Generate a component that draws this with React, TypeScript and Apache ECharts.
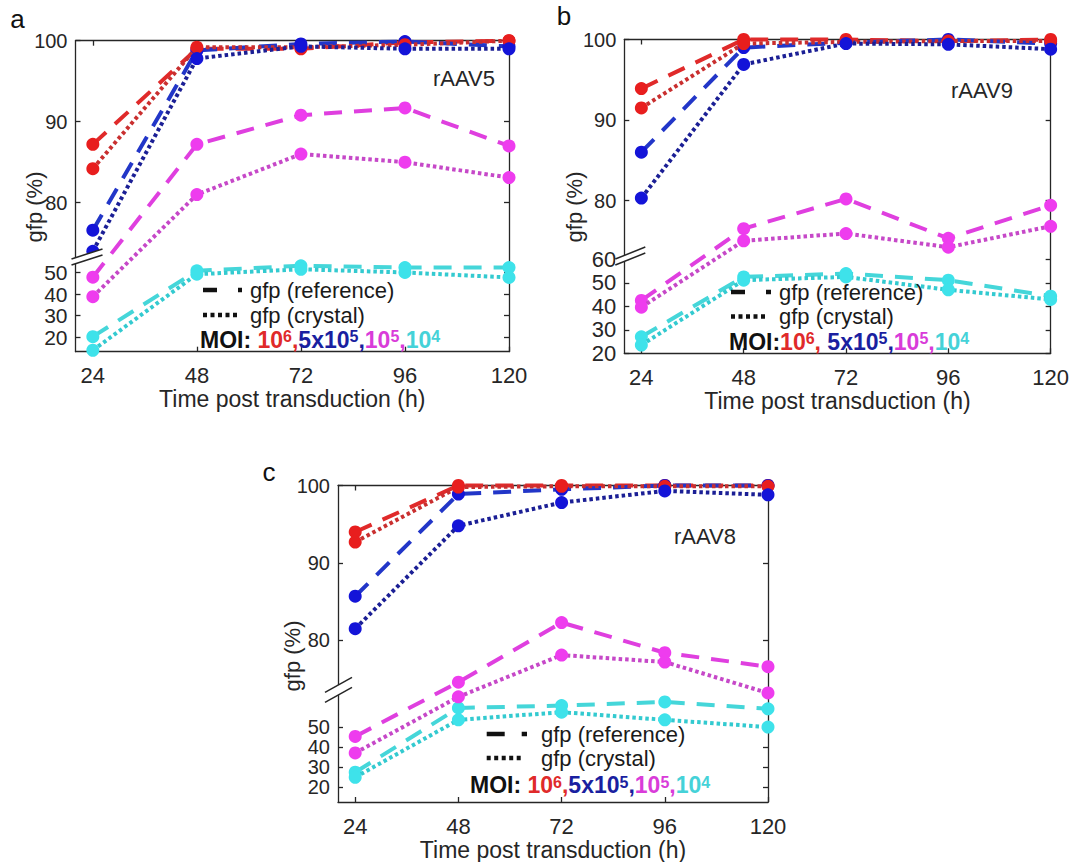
import React, { useEffect, useRef } from "react";
import * as echarts from "echarts";

// ---------- data ----------
const hours = [24, 48, 72, 96, 120];
const xTicks = [24, 48, 72, 96, 120];
const upperTicks = [80, 90, 100];
const lowerTicksA = [20, 30, 40, 50];
const lowerTicksB = [20, 30, 40, 50, 60];
const lowerTicksC = [20, 30, 40, 50];
const panelLetters = ["a", "b", "c"];
const vectorNames = ["rAAV5", "rAAV9", "rAAV8"];
const legendLabels = ["gfp (reference)", "gfp (crystal)"];
const moiNames = ["10^6", "5x10^5", "10^5", "10^4"];
const yTitle = "gfp (%)";
const xTitle = "Time post transduction (h)";

// panel a (rAAV5)
const aRedRef = [87.2, 99.0, 99.0, 99.8, 100.0];
const aRedCry = [84.2, 99.2, 99.2, 99.5, 100.0];
const aBlueRef = [76.6, 98.8, 99.6, 99.9, 99.3];
const aBlueCry = [74.0, 97.8, 99.3, 99.0, 99.0];
const aMagRef = [47.8, 87.2, 90.8, 91.7, 87.0];
const aMagCry = [38.8, 81.0, 86.0, 85.0, 83.1];
const aCyanRef = [20.3, 50.8, 53.1, 52.3, 52.3];
const aCyanCry = [14.0, 49.2, 51.5, 50.0, 47.7];

// panel b (rAAV9)
const bRedRef = [93.9, 100.0, 100.0, 99.8, 100.0];
const bRedCry = [91.5, 99.5, 99.7, 99.8, 99.8];
const bBlueRef = [86.0, 99.0, 99.6, 100.0, 99.5];
const bBlueCry = [80.3, 96.9, 99.5, 99.4, 98.8];
const bMagRef = [42.5, 76.5, 80.2, 75.3, 79.4];
const bMagCry = [39.6, 75.0, 75.9, 74.2, 76.8];
const bCyanRef = [27.0, 52.5, 53.9, 51.1, 44.3];
const bCyanCry = [23.5, 51.1, 52.5, 47.0, 42.9];

// panel c (rAAV8)
const cRedRef = [94.0, 100.0, 100.0, 100.0, 100.0];
const cRedCry = [92.7, 99.8, 99.9, 99.9, 99.9];
const cBlueRef = [85.7, 98.9, 99.5, 100.0, 100.0];
const cBlueCry = [81.5, 94.8, 97.8, 99.3, 98.8];
const cMagRef = [45.3, 74.6, 82.3, 78.4, 76.6];
const cMagCry = [37.1, 72.7, 78.1, 77.2, 73.2];
const cCyanRef = [27.5, 59.5, 60.7, 62.5, 59.1];
const cCyanCry = [25.0, 53.6, 57.4, 53.6, 50.0];

// ---------- styling / layout ----------
const FONT = "'Liberation Sans', Arial, Helvetica, sans-serif";
const AXIS = "#262626";
const BREAK_THRESHOLD = 65; // values below are drawn on the compressed lower scale

const colorSpec = [
  { dash: "#e02a2a", dot: "#c92f2f", mk: "#e81e1e", txt: "#e02a2a" },
  { dash: "#2236c8", dot: "#1b1f95", mk: "#1414d8", txt: "#1a1fa0" },
  { dash: "#df3fdf", dot: "#c648c8", mk: "#ee3cee", txt: "#d93cd9" },
  { dash: "#45d6d9", dot: "#33cad0", mk: "#3ee2ea", txt: "#45d2d8" },
];

const moiA =
  "{k|MOI: }{r|10}{rs|6}{r|,}{b|5x10}{bs|5}{b|,}{m|10}{ms|5}{m|,}{c|10}{cs|4}";
const moiB =
  "{k|MOI:}{r|10}{rs|6}{r|, }{b|5x10}{bs|5}{b|,}{m|10}{ms|5}{m|,}{c|10}{cs|4}";

const panels = [
  {
    grid: { left: 75.5, top: 40.7, width: 433.5, height: 311 },
    yMin: 61.6, refV: 50, refT: 71.38, k: 0.2667, lowerTicks: lowerTicksA, loFont: 21,
    sets: [[aRedRef, aRedCry], [aBlueRef, aBlueCry], [aMagRef, aMagCry], [aCyanRef, aCyanCry]],
    breakT: 73.3, brk: { l1: 4, l2: 27, h: 10, sep: 6 },
    letter: { x: 17.5, y: 18.5 }, vname: { x: 495, y: 78 }, ytitle: { x: 34, y: 207 },
    legend: { x1: 203, x2: 242, dash: [14, 21], xt: 250, y1: 290, y2: 315, mx: 200, my: 339.5 },
    moi: moiA,
  },
  {
    grid: { left: 624.3, top: 39.5, width: 427.4, height: 313.8 },
    yMin: 61.02, refV: 60, refT: 72.7, k: 0.2919, lowerTicks: lowerTicksB, loFont: 22,
    sets: [[bRedRef, bRedCry], [bBlueRef, bBlueCry], [bMagRef, bMagCry], [bCyanRef, bCyanCry]],
    breakT: 73.1, brk: { l1: 9, l2: 21, h: 12, sep: 6 },
    letter: { x: 564, y: 16 }, vname: { x: 1013, y: 90 }, ytitle: { x: 574, y: 207 },
    legend: { x1: 731, x2: 771, dash: [14, 21], xt: 779, y1: 292, y2: 316.5, mx: 729, my: 341.5 },
    moi: moiB,
  },
  {
    grid: { left: 338, top: 485.5, width: 430, height: 316.8 },
    yMin: 59.12, refV: 50, refT: 68.8, k: 0.2594, lowerTicks: lowerTicksC, loFont: 20,
    sets: [[cRedRef, cRedCry], [cBlueRef, cBlueCry], [cMagRef, cMagCry], [cCyanRef, cCyanCry]],
    breakT: 73.6, brk: { l1: 13, l2: 14, h: 15, sep: 10 },
    letter: { x: 269, y: 472 }, vname: { x: 736, y: 536 }, ytitle: { x: 292, y: 656 },
    legend: { x1: 486.7, x2: 527, dash: [18, 17], xt: 541, y1: 734, y2: 758, mx: 470, my: 785 },
    moi: moiA,
  },
];

type Panel = (typeof panels)[number];

function toT(p: Panel, v: number): number {
  return v >= BREAK_THRESHOLD ? v : p.refT - (p.refV - v) * p.k;
}

function buildOption() {
  const grid: any[] = [];
  const xAxis: any[] = [];
  const yAxis: any[] = [];
  const series: any[] = [];

  panels.forEach((p, pi) => {
    grid.push({ ...p.grid, containLabel: false });

    const ticks = [
      ...p.lowerTicks.map((v) => ({ t: toT(p, v), label: String(v), kind: "lo" })),
      ...upperTicks.map((v) => ({ t: v, label: String(v), kind: "up" })),
    ];
    const tickTs = ticks.map((d) => d.t);
    // an empty placeholder label at the axis minimum keeps the real lowest label from being auto-hidden
    const labelTs = [p.yMin, ...tickTs];
    const fmt = (val: number) => {
      const m = ticks.find((d) => Math.abs(d.t - val) < 1e-6);
      return m ? `{${m.kind}|${m.label}}` : "";
    };

    xAxis.push({
      type: "value", gridIndex: pi, position: "bottom", min: 20, max: 120,
      name: xTitle, nameLocation: "middle", nameGap: 37,
      nameMoveOverlap: false,
      nameTextStyle: { fontSize: 23, lineHeight: 21, color: AXIS, fontFamily: FONT },
      axisLine: { show: true, onZero: false, lineStyle: { color: AXIS, width: 1.3 } },
      axisTick: { show: true, inside: true, length: 5, customValues: xTicks, lineStyle: { color: AXIS, width: 1.3 } },
      axisLabel: {
        show: true, customValues: xTicks, margin: 15, fontSize: 22, lineHeight: 18, color: AXIS, fontFamily: FONT,
        showMinLabel: true, showMaxLabel: true,
      },
      splitLine: { show: false },
    });
    xAxis.push({
      type: "value", gridIndex: pi, position: "top", min: 20, max: 120,
      axisLine: { show: true, onZero: false, lineStyle: { color: AXIS, width: 1.3 } },
      axisTick: { show: true, inside: true, length: 5, customValues: xTicks, lineStyle: { color: AXIS, width: 1.3 } },
      axisLabel: { show: false },
      splitLine: { show: false },
    });
    yAxis.push({
      type: "value", gridIndex: pi, position: "left", min: p.yMin - 1e-9, max: 100,
      axisLine: { show: true, onZero: false, lineStyle: { color: AXIS, width: 1.3 } },
      axisTick: { show: true, inside: true, length: 5, customValues: tickTs, lineStyle: { color: AXIS, width: 1.3 } },
      axisLabel: {
        show: true, customValues: labelTs, formatter: fmt, margin: 8, fontSize: 20, lineHeight: 15,
        color: AXIS, fontFamily: FONT, showMinLabel: false, showMaxLabel: true, hideOverlap: false,
        rich: {
          up: { fontSize: 20, lineHeight: 15, color: AXIS, fontFamily: FONT },
          lo: { fontSize: p.loFont, lineHeight: 15, color: AXIS, fontFamily: FONT },
        },
      },
      splitLine: { show: false },
    });
    yAxis.push({
      type: "value", gridIndex: pi, position: "right", min: p.yMin - 1e-9, max: 100,
      axisLine: { show: true, onZero: false, lineStyle: { color: AXIS, width: 1.3 } },
      axisTick: { show: true, inside: true, length: 5, customValues: tickTs, lineStyle: { color: AXIS, width: 1.3 } },
      axisLabel: { show: false },
      splitLine: { show: false },
    });

    p.sets.forEach((pair, ci) => {
      pair.forEach((vals, j) => {
        const c = colorSpec[ci];
        series.push({
          type: "line",
          name: `${vectorNames[pi]} ${legendLabels[j]} MOI ${moiNames[ci]}`,
          xAxisIndex: 2 * pi,
          yAxisIndex: 2 * pi,
          data: hours.map((h, n) => [h, toT(p, vals[n])]),
          symbol: "circle",
          symbolSize: 13,
          clip: false,
          silent: true,
          z: 2 + j,
          lineStyle: {
            color: j ? c.dot : c.dash,
            width: 4,
            type: j ? [3.5, 3] : [18, 12],
            cap: "butt",
          },
          itemStyle: { color: c.mk },
        });
      });
    });
  });

  return {
    animation: false,
    backgroundColor: "#ffffff",
    textStyle: { fontFamily: FONT },
    grid, xAxis, yAxis, series,
  };
}

function richTokens() {
  const base = { fontSize: 23, fontWeight: "bold", fontFamily: FONT, lineHeight: 22 };
  const sup = { fontSize: 16, fontWeight: "bold", fontFamily: FONT, verticalAlign: "top", lineHeight: 12 };
  return {
    k: { ...base, fill: "#111111" },
    r: { ...base, fill: colorSpec[0].txt },
    rs: { ...sup, fill: colorSpec[0].txt },
    b: { ...base, fill: colorSpec[1].txt },
    bs: { ...sup, fill: colorSpec[1].txt },
    m: { ...base, fill: colorSpec[2].txt },
    ms: { ...sup, fill: colorSpec[2].txt },
    c: { ...base, fill: colorSpec[3].txt },
    cs: { ...sup, fill: colorSpec[3].txt },
  };
}

function textEl(x: number, y: number, text: string, size: number, align: string, color = AXIS, weight = "normal", rotation = 0) {
  return {
    type: "text", x, y, rotation, z: 100, silent: true,
    style: {
      text, fill: color, fontSize: size, fontFamily: FONT, fontWeight: weight, lineHeight: size - 4,
      align, verticalAlign: "middle", textAlign: align, textVerticalAlign: "middle",
    },
  };
}

function buildGraphics(chart: any) {
  const els: any[] = [];
  panels.forEach((p, pi) => {
    els.push(textEl(p.letter.x, p.letter.y, panelLetters[pi], 26, "center", "#111111"));
    els.push(textEl(p.vname.x, p.vname.y, vectorNames[pi], 22, "right"));
    els.push(textEl(p.ytitle.x, p.ytitle.y, yTitle, 22, "center", AXIS, "normal", Math.PI / 2));

    const L = p.legend;
    els.push({ type: "line", z: 100, silent: true, shape: { x1: L.x1, y1: L.y1, x2: L.x2, y2: L.y1 }, style: { stroke: "#111111", lineWidth: 4.5, lineDash: L.dash } });
    els.push({ type: "line", z: 100, silent: true, shape: { x1: L.x1, y1: L.y2, x2: L.x2 - 3, y2: L.y2 }, style: { stroke: "#111111", lineWidth: 4.5, lineDash: [4, 3.5] } });
    els.push(textEl(L.xt, L.y1, legendLabels[0], 22, "left", "#1a1a1a"));
    els.push(textEl(L.xt, L.y2, legendLabels[1], 22, "left", "#1a1a1a"));
    els.push({
      type: "text", x: L.mx, y: L.my, z: 100, silent: true,
      style: {
        text: p.moi, rich: richTokens(), fontSize: 23, fontFamily: FONT,
        align: "left", verticalAlign: "middle", textAlign: "left", textVerticalAlign: "middle",
      },
    });

    // axis break marks
    const pt = chart.convertToPixel({ xAxisIndex: 2 * pi, yAxisIndex: 2 * pi }, [20, p.breakT]);
    if (pt) {
      const [ax, by] = pt;
      const b = p.brk;
      const xa = ax - b.l1, xb = ax + b.l2;
      const up = by - b.sep / 2, dn = by + b.sep / 2;
      els.push({
        type: "polygon", z: 99, silent: true,
        shape: { points: [[xa, up + b.h / 2], [xb, up - b.h / 2], [xb, dn - b.h / 2], [xa, dn + b.h / 2]] },
        style: { fill: "#ffffff" },
      });
      els.push({ type: "line", z: 100, silent: true, shape: { x1: xa, y1: up + b.h / 2, x2: xb, y2: up - b.h / 2 }, style: { stroke: AXIS, lineWidth: 1.5 } });
      els.push({ type: "line", z: 100, silent: true, shape: { x1: xa, y1: dn + b.h / 2, x2: xb, y2: dn - b.h / 2 }, style: { stroke: AXIS, lineWidth: 1.5 } });
    }
  });
  return els;
}

export default function App() {
  const ref = useRef<HTMLDivElement>(null);
  useEffect(() => {
    if (!ref.current) return;
    const chart = echarts.init(ref.current, null, { renderer: "svg" });
    chart.setOption(buildOption() as any);
    chart.setOption({ graphic: [{ type: "group", children: buildGraphics(chart) }] } as any);
    return () => chart.dispose();
  }, []);
  return (
    <div
      ref={ref}
      style={{ position: "absolute", left: 0, top: 0, width: 1072, height: 862, background: "#ffffff" }}
    />
  );
}
